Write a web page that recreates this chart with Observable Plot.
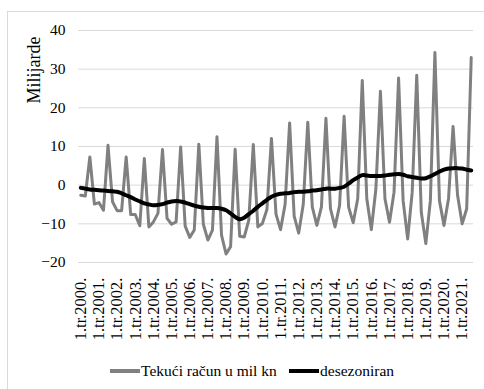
<!DOCTYPE html>
<html><head><meta charset="utf-8">
<script src="https://cdn.jsdelivr.net/npm/d3@7"></script>
<script src="https://cdn.jsdelivr.net/npm/@observablehq/plot@0.6"></script>
<style>
body{margin:0;background:#fff;font-family:"Liberation Serif","Times New Roman",serif;color:#000;}
#wrap{position:relative;width:484px;height:389px;overflow:hidden;background:#fff;}
#frame{position:absolute;left:7px;top:11px;width:520px;height:420px;border:1px solid #d9d9d9;box-sizing:border-box;}
#chart{position:absolute;left:0;top:0;}
#ytitle{position:absolute;left:34px;top:70px;transform:translate(-50%,-50%) rotate(-90deg);font-size:18px;white-space:nowrap;}
.leg{position:absolute;top:362px;display:flex;align-items:center;font-size:15.5px;white-space:nowrap;}
.sw{display:inline-block;width:30px;height:4px;margin-right:1px;}
</style>
</head><body>
<div id="wrap">
  <div id="frame"></div>
  <div id="chart"></div>
  <div id="ytitle">Milijarde</div>
  <div class="leg" style="left:110px"><span class="sw" style="background:#808080"></span><span>Tekući račun u mil kn</span></div>
  <div class="leg" style="left:289px"><span class="sw" style="background:#000"></span><span>desezoniran</span></div>
</div>
<script>
const years = [2000,2001,2002,2003,2004,2005,2006,2007,2008,2009,2010,2011,2012,2013,2014,2015,2016,2017,2018,2019,2020,2021];
const quarterNames = ["1.tr.","2.tr.","3.tr.","4.tr."];
const seriesNames = ["Tekući račun u mil kn","desezoniran"];
const yTicks = [-20,-10,0,10,20,30,40];

// Tekući račun (milijarde kn), quarterly 1.tr.2000 – 3.tr.2021
const tekuci = [
  -2.6, -2.8, 7.3, -4.9,
  -4.5, -6.5, 10.3, -4.3,
  -6.6, -6.6, 7.3, -7.6,
  -7.6, -10.5, 6.9, -10.8,
  -9.5, -7.3, 9.2, -8.6,
  -10.1, -9.5, 9.9, -10.6,
  -13.5, -11.6, 10.6, -10.1,
  -14.2, -11.6, 12.5, -12.9,
  -17.8, -15.9, 9.3, -13.2,
  -13.4, -9.1, 10.5, -10.8,
  -9.9, -6.3, 12.1, -7.5,
  -11.5, -5.0, 16.1, -8.0,
  -12.4, -5.0, 16.3, -5.7,
  -10.4, -5.7, 17.3, -6.1,
  -10.8, -5.3, 17.8, -5.7,
  -9.7, -3.5, 27.1, -3.5,
  -11.5, -1.0, 24.3, -3.5,
  -9.6, -1.8, 27.7, -4.0,
  -13.9, -1.8, 28.4, -7.0,
  -15.1, -4.0, 34.3, -4.0,
  -10.4, -3.5, 15.2, -2.7,
  -10.0, -6.1, 33.0
];
// desezoniran
const desez = [
  -0.7, -0.9, -1.1, -1.2,
  -1.3, -1.4, -1.5, -1.6,
  -1.7, -2.1, -2.6, -3.1,
  -3.7, -4.2, -4.7, -5.0,
  -5.2, -5.1, -4.9, -4.5,
  -4.2, -4.1, -4.2, -4.5,
  -4.9, -5.3, -5.6, -5.8,
  -5.9, -5.9, -5.9, -6.1,
  -6.5, -7.3, -8.2, -8.8,
  -8.4, -7.5, -6.6, -5.6,
  -4.7, -3.8, -3.0, -2.5,
  -2.2, -2.1, -2.0, -1.8,
  -1.7, -1.7, -1.6, -1.4,
  -1.3, -1.1, -0.9, -0.9,
  -0.9, -0.7, -0.4, 0.4,
  1.3, 2.0, 2.6, 2.5,
  2.4, 2.4, 2.4, 2.5,
  2.7, 2.8, 2.9, 2.7,
  2.3, 2.1, 1.9, 1.7,
  1.8, 2.3, 2.9, 3.5,
  4.0, 4.3, 4.4, 4.4,
  4.3, 4.0, 3.8
];

const labels = [];
for (const y of years) for (const q of quarterNames) labels.push(q + y + ".");
const periods = labels.slice(0, tekuci.length);
const q1labels = periods.filter(d => d.startsWith("1.tr."));

const rows1 = periods.map((p, i) => ({p, v: tekuci[i]}));
const rows2 = periods.map((p, i) => ({p, v: desez[i]}));

const chart = Plot.plot({
  width: 484,
  height: 355,
  marginLeft: 78,
  marginRight: 11,
  marginTop: 30,
  marginBottom: 93,
  style: {fontFamily: "'Liberation Serif', 'Times New Roman', serif", color: "#000", background: "transparent"},
  x: {type: "point", domain: periods, padding: 0.5},
  y: {domain: [-20, 40]},
  marks: [
    Plot.gridY(yTicks, {stroke: "#d9d9d9", strokeOpacity: 1, strokeWidth: 1}),
    Plot.axisY(yTicks, {tickSize: 0, tickPadding: 13, fontSize: 15.5, label: null}),
    Plot.axisX(q1labels, {tickSize: 0, tickPadding: 15, tickRotate: -90, fontSize: 16.5, label: null}),
    Plot.lineY(rows1, {x: "p", y: "v", stroke: "#808080", strokeWidth: 3, strokeLinejoin: "round"}),
    Plot.lineY(rows2, {x: "p", y: "v", stroke: "#000", strokeWidth: 4, curve: "catmull-rom", strokeLinejoin: "round"})
  ]
});
document.getElementById("chart").appendChild(chart);
</script>
</body></html>
